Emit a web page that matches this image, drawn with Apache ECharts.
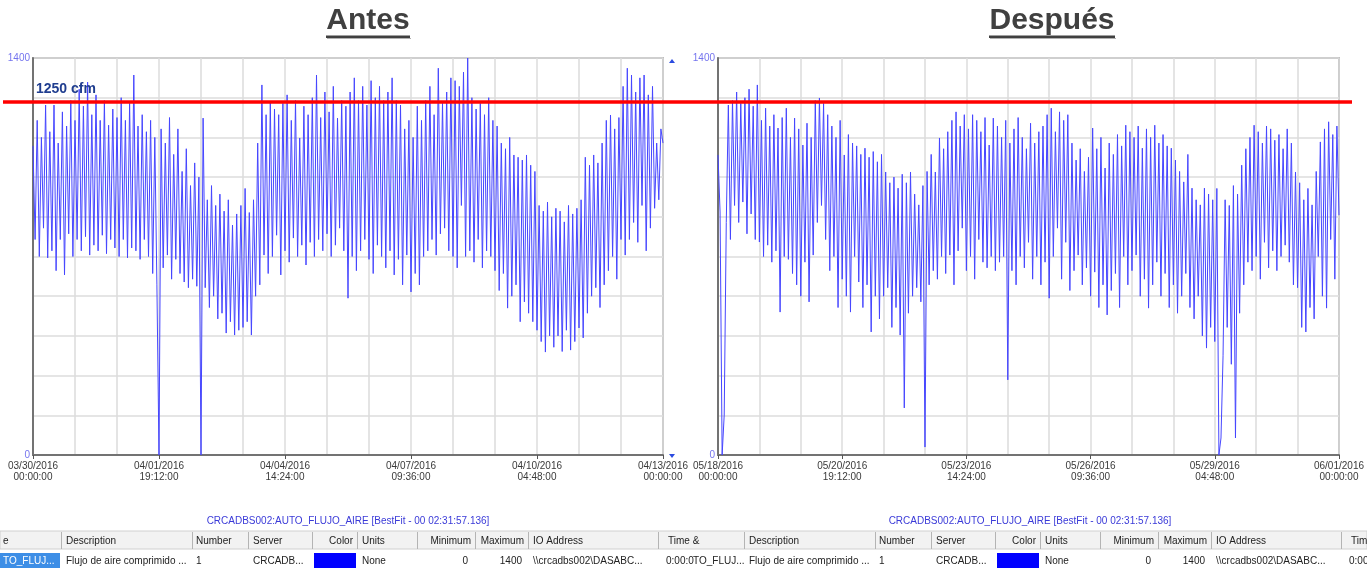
<!DOCTYPE html>
<html>
<head>
<meta charset="utf-8">
<title>Flujo de aire - Antes / Después</title>
<script src="https://cdn.jsdelivr.net/npm/echarts@6/dist/echarts.min.js"></script>
<style>
  html, body { margin: 0; padding: 0; background: #fff; }
  #chart { width: 1367px; height: 572px; }
</style>
</head>
<body>
<div id="chart"></div>
<script>
// ventanas de 14 días, una muestra cada 67.2 min
const stepMin = 67.2
const spanMin = 20160
const labelStepMin = 4032
const antesStart = Date.UTC(2016, 2, 30)
const despuesStart = Date.UTC(2016, 4, 18)
const yMax = 1400
const yStep = 140
const limite = 1250

// AUTO_FLUJO_AIRE antes (03/30 - 04/13)
const antesValues = [
  1090, 760, 1180, 700, 1120, 800, 1234, 695, 1140, 720,
  1234, 650, 1100, 760, 1210, 635, 1160, 780, 1250, 700,
  1180, 760, 1290, 720, 1230, 770, 1315, 705, 1200, 740,
  1270, 720, 1180, 775, 1250, 710, 1163, 760, 1220, 730,
  1190, 700, 1260, 760, 1180, 695, 1240, 730, 1340, 720,
  1160, 690, 1200, 760, 1140, 700, 1180, 640, 1120, 600,
  0, 1150, 660, 1100, 705, 1190, 620, 1060, 690, 1150,
  640, 1000, 610, 1080, 590, 950, 620, 1030, 595, 980,
  0, 1188, 590, 900, 520, 950, 560, 880, 480, 920,
  500, 860, 430, 900, 470, 811, 423, 850, 440, 880,
  450, 940, 470, 855, 423, 900, 560, 1100, 600, 1305,
  705, 1200, 640, 1245, 700, 1220, 775, 1200, 635, 1240,
  720, 1270, 680, 1180, 765, 1250, 700, 1118, 740, 1230,
  670, 1200, 750, 1260, 700, 1340, 760, 1190, 720, 1280,
  780, 1210, 700, 1300, 740, 1188, 800, 1250, 720, 1230,
  553, 1280, 700, 1330, 650, 1250, 720, 1300, 760, 1234,
  690, 1320, 640, 1260, 740, 1300, 700, 1250, 660, 1280,
  720, 1330, 635, 1250, 690, 1234, 600, 1150, 705, 1180,
  575, 1120, 640, 1230, 600, 1180, 700, 1250, 720, 1300,
  760, 1200, 705, 1364, 780, 1240, 800, 1280, 720, 1330,
  700, 1320, 660, 1300, 880, 1350, 700, 1400, 720, 1260,
  680, 1220, 760, 1240, 660, 1200, 720, 1260, 700, 1180,
  650, 1160, 580, 1100, 640, 1080, 518, 1120, 560, 1058,
  600, 1050, 470, 1040, 540, 1058, 500, 1022, 470, 1000,
  440, 880, 400, 860, 363, 892, 420, 840, 380, 870,
  420, 860, 365, 822, 440, 880, 370, 850, 400, 870,
  448, 900, 413, 1050, 500, 1022, 560, 1058, 590, 1030,
  520, 1100, 600, 1180, 650, 1199, 700, 1150, 620, 1190,
  760, 1300, 705, 1364, 760, 1340, 820, 1280, 750, 1330,
  880, 1340, 720, 1270, 800, 1300, 870, 1100, 900, 1150,
  1100
]

// AUTO_FLUJO_AIRE después (05/18 - 06/01)
const despuesValues = [
  1058, 857, 0, 141, 820, 1234, 760, 1250, 880, 1280,
  820, 1240, 892, 1260, 780, 1290, 850, 1230, 760, 1305,
  751, 1180, 700, 1223, 740, 1160, 680, 1200, 720, 1153,
  504, 1190, 700, 1223, 690, 1120, 640, 1188, 600, 1150,
  560, 1093, 680, 1170, 540, 1120, 705, 1250, 820, 1259,
  880, 1240, 760, 1200, 650, 1160, 700, 1120, 520, 1180,
  620, 1058, 560, 1130, 504, 1100, 700, 1090, 610, 1060,
  520, 1082, 600, 1050, 434, 1070, 560, 1034, 480, 1060,
  560, 998, 590, 960, 450, 980, 520, 941, 423, 990,
  166, 960, 500, 998, 560, 920, 590, 882, 540, 950,
  28, 1000, 600, 1060, 650, 998, 620, 1118, 700, 1080,
  640, 1140, 705, 1180, 600, 1210, 720, 1160, 800, 1200,
  650, 1150, 700, 1200, 620, 1180, 760, 1140, 680, 1190,
  660, 1093, 700, 1188, 650, 1160, 680, 1120, 700, 1180,
  265, 1100, 650, 1150, 600, 1190, 700, 1120, 660, 1080,
  750, 1170, 620, 1100, 700, 1140, 600, 1160, 680, 1200,
  553, 1223, 700, 1140, 800, 1210, 620, 1180, 750, 1200,
  580, 1100, 650, 1040, 705, 1080, 600, 1000, 660, 1050,
  560, 1153, 645, 1080, 520, 1120, 600, 1012, 494, 1100,
  580, 1060, 640, 1130, 520, 1090, 700, 1163, 600, 1140,
  650, 1120, 705, 1160, 560, 1082, 620, 1150, 518, 1120,
  600, 1163, 680, 1100, 560, 1130, 640, 1090, 520, 1082,
  600, 1040, 500, 1000, 560, 963, 640, 1060, 520, 941,
  480, 900, 560, 882, 420, 941, 377, 920, 450, 900,
  400, 940, 0, 60, 350, 900, 450, 880, 320, 950,
  60, 920, 500, 1022, 600, 1080, 680, 1120, 650, 1163,
  700, 1140, 620, 1100, 750, 1160, 660, 1150, 720, 1110,
  650, 1130, 700, 1080, 740, 1150, 680, 1100, 600, 998,
  590, 960, 450, 900, 434, 940, 520, 882, 480, 1000,
  700, 1104, 560, 1150, 518, 1175, 760, 1130, 620, 1160,
  846
]

const FONT = 'Liberation Sans, Arial, sans-serif'
const GRID_C = '#dcdcdc'
const AXIS_C = '#737373'

const pad = n => String(n).padStart(2, '0')
const fmtDate = start => v => {
  const d = new Date(start + Math.round(v) * 60000)
  return pad(d.getUTCMonth() + 1) + '/' + pad(d.getUTCDate()) + '/' + d.getUTCFullYear() +
    '\n' + pad(d.getUTCHours()) + ':' + pad(d.getUTCMinutes()) + ':' + pad(d.getUTCSeconds())
}

const toSeries = vals => vals.map((v, i) => [i * stepMin, v])

const xAxisFor = (gridIndex, start) => ({
  type: 'value',
  gridIndex,
  min: 0,
  max: spanMin,
  interval: labelStepMin,
  axisLine: { lineStyle: { color: AXIS_C, width: 2 } },
  axisTick: { show: true, length: 4, lineStyle: { color: '#555' } },
  axisLabel: {
    formatter: fmtDate(start),
    color: '#3a3a3a',
    fontFamily: FONT,
    fontSize: 10,
    lineHeight: 11,
    margin: 6,
    showMinLabel: true,
    showMaxLabel: true
  },
  splitLine: { show: true, lineStyle: { color: GRID_C, width: 1.5 } },
  minorTick: { show: false, splitNumber: 3 },
  minorSplitLine: { show: true, lineStyle: { color: GRID_C, width: 1.5 } }
})

const yAxisFor = gridIndex => ({
  type: 'value',
  gridIndex,
  min: 0,
  max: yMax,
  interval: yStep,
  axisLine: { show: true, lineStyle: { color: AXIS_C, width: 2 } },
  axisTick: { show: false },
  axisLabel: {
    color: '#7474ee',
    fontFamily: FONT,
    fontSize: 10,
    margin: 3,
    formatter: v => (v === 0 || v === yMax) ? String(v) : ''
  },
  splitLine: { show: true, lineStyle: { color: GRID_C, width: 1.5 } }
})

const lineSeries = (idx, vals) => ({
  type: 'line',
  xAxisIndex: idx,
  yAxisIndex: idx,
  data: toSeries(vals),
  showSymbol: false,
  lineStyle: { color: '#4646ff', width: 1 },
  z: 3
})

const chart = echarts.init(document.getElementById('chart'))
chart.setOption({
  animation: false,
  backgroundColor: '#fff',
  grid: [
    { left: 33, top: 58, width: 630, height: 397, show: true, borderColor: '#8c8c8c', borderWidth: 1.5 },
    { left: 718, top: 58, width: 623, height: 397, show: true, borderColor: '#8c8c8c', borderWidth: 1.5 }
  ],
  xAxis: [xAxisFor(0, antesStart), xAxisFor(1, despuesStart)],
  yAxis: [yAxisFor(0), yAxisFor(1)],
  series: [lineSeries(0, antesValues), lineSeries(1, despuesValues)]
})

// línea de límite y textos extra
const yLim = chart.convertToPixel({ yAxisIndex: 0 }, limite) + 1.5
const txt = (text, x, y, opts) => ({
  type: 'text', x, y, z: 20,
  style: Object.assign({ text, fill: '#222', font: '10px ' + FONT, verticalAlign: 'middle', align: 'left' }, opts || {})
})

const title = (text, cx, w) => [
  txt(text, cx, 21, { font: 'bold 30px ' + FONT, fill: '#404040', align: 'center' }),
  { type: 'rect', z: 20, shape: { x: cx - w / 2, y: 35.5, width: w, height: 2.5 }, style: { fill: '#404040' } },
  { type: 'rect', z: 19, shape: { x: cx - w / 2 + 1, y: 38, width: w, height: 1 }, style: { fill: '#b0b0b0' } }
]

// tabla de leyenda del trend
const caption = 'CRCADBS002:AUTO_FLUJO_AIRE [BestFit - 00 02:31:57.136]'
const seps = [61, 192, 248, 312, 357, 417, 475, 528, 658]
const shift = 683
const headL = [
  ['e', 3, 'left'], ['Description', 66, 'left'], ['Number', 196, 'left'], ['Server', 253, 'left'],
  ['Color', 353, 'right'], ['Units', 362, 'left'], ['Minimum', 471, 'right'], ['Maximum', 524, 'right'],
  ['IO Address', 533, 'left'], ['Time &', 668, 'left']
]
const rowL = [
  ['Flujo de aire comprimido ...', 66, 'left'], ['1', 196, 'left'], ['CRCADB...', 253, 'left'],
  ['None', 362, 'left'], ['0', 468, 'right'], ['1400', 522, 'right'],
  ['\\\\crcadbs002\\DASABC...', 533, 'left'], ['0:00:0', 666, 'left']
]

const g = []
g.push(...title('Antes', 368, 84), ...title('Después', 1052, 126))
g.push({ type: 'line', z: 15, shape: { x1: 3, y1: yLim, x2: 1352, y2: yLim }, style: { stroke: '#ff0000', lineWidth: 3.5 } })
g.push(txt('1250 cfm', 36, yLim - 6, { font: 'bold 14px ' + FONT, fill: '#1f3d8f', verticalAlign: 'bottom' }))
g.push({ type: 'polygon', z: 20, shape: { points: [[669, 63], [675, 63], [672, 59]] }, style: { fill: '#2b4be0' } })
g.push({ type: 'polygon', z: 20, shape: { points: [[669, 454], [675, 454], [672, 458]] }, style: { fill: '#2b4be0' } })

g.push(txt(caption, 348, 521, { fill: '#3a3ad8', align: 'center' }))
g.push(txt(caption, 1030, 521, { fill: '#3a3ad8', align: 'center' }))

g.push({ type: 'rect', z: 10, shape: { x: 0, y: 531, width: 1367, height: 18 }, style: { fill: '#f2f2f2', stroke: '#d0d0d0', lineWidth: 1 } })
;[...seps, ...seps.map(s => s + shift)].forEach(s => {
  g.push({ type: 'line', z: 11, shape: { x1: s + 0.5, y1: 532, x2: s + 0.5, y2: 549 }, style: { stroke: '#b4b4b4', lineWidth: 1 } })
})
headL.forEach(([t, x, a]) => g.push(txt(t, x, 541, { align: a })))
headL.slice(1).forEach(([t, x, a]) => g.push(txt(t, x + shift, 541, { align: a })))

g.push({ type: 'rect', z: 10, shape: { x: 0, y: 553, width: 60, height: 15 }, style: { fill: '#3d8ee6' } })
g.push(txt('TO_FLUJ...', 3, 561, { fill: '#fff' }))
g.push(txt('TO_FLUJ...', 693, 561))
rowL.forEach(([t, x, a]) => g.push(txt(t, x, 561, { align: a })))
rowL.forEach(([t, x, a]) => g.push(txt(t, x + shift, 561, { align: a })))
g.push({ type: 'rect', z: 10, shape: { x: 314, y: 553, width: 42, height: 15 }, style: { fill: '#0000ff' } })
g.push({ type: 'rect', z: 10, shape: { x: 314 + shift, y: 553, width: 42, height: 15 }, style: { fill: '#0000ff' } })

chart.setOption({ graphic: g })

window.addEventListener('resize', () => chart.resize())
</script>
</body>
</html>
